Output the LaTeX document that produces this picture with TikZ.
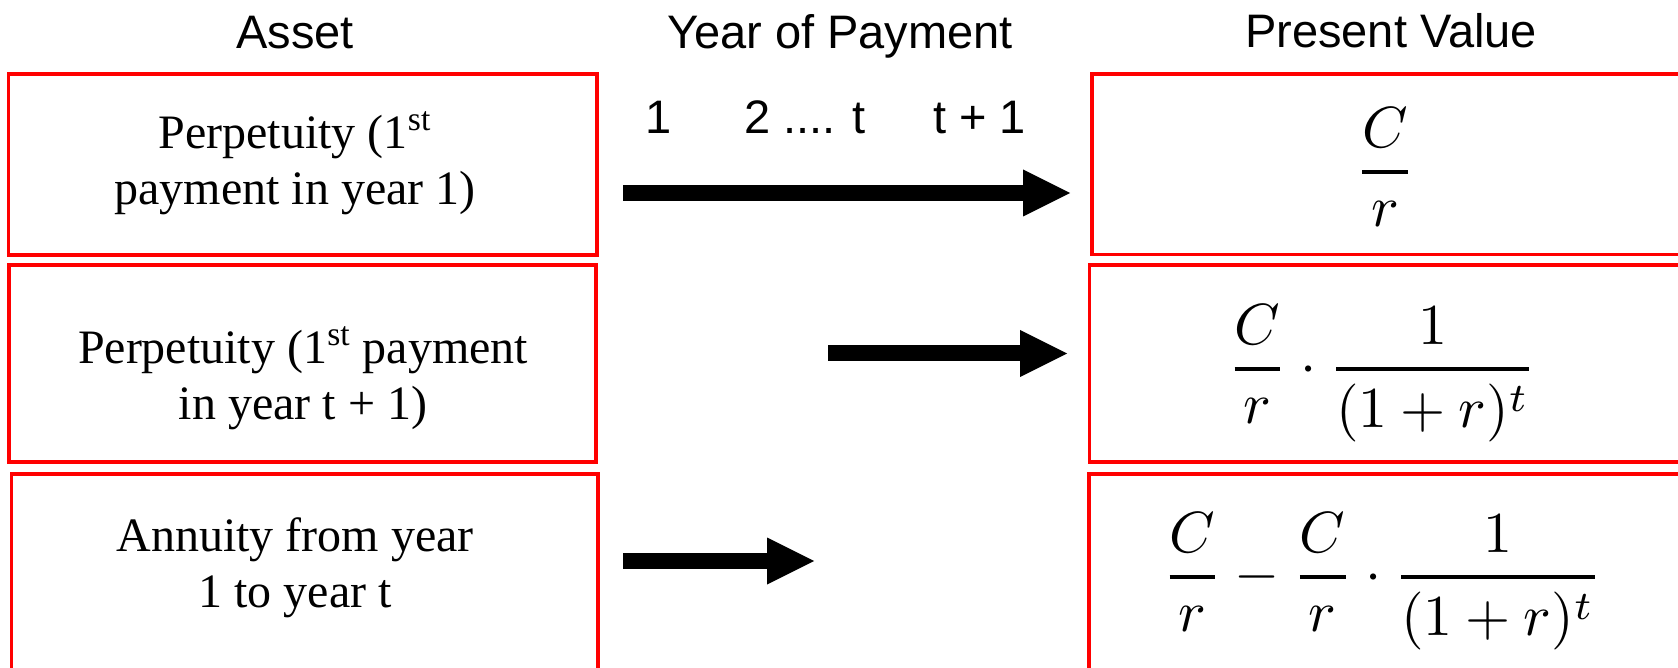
\documentclass[tikz,border=0pt]{standalone}
\usepackage{amsmath}
\usepackage{graphicx}
\usepackage{fontspec}
\setmainfont{Liberation Serif}
\newfontfamily\arialfont{Liberation Sans}
\usetikzlibrary{arrows.meta}
\newcommand{\bfr}[2]{\genfrac{}{}{0.76pt}{0}{#1}{#2}}
\newcommand{\bigmath}[1]{\scalebox{2.9}{$\displaystyle #1$}}
\tikzset{
  redbox/.style={draw=red, line width=1.8pt, rectangle, inner sep=0pt},
  header/.style={font=\arialfont\fontsize{23.5}{28}\selectfont, anchor=base, inner sep=0pt},
  assettxt/.style={font=\fontsize{24}{28}\selectfont, align=center, inner sep=0pt},
  pvmath/.style={font=\fontsize{10}{12}\selectfont, anchor=base, inner sep=0pt},
  bigarrow/.style={line width=8pt, -{Triangle[length=23.5pt,width=23.5pt,line width=0pt]}},
}
\begin{document}
\begin{tikzpicture}[x=0.5pt,y=-0.5pt]
\useasboundingbox (0,0) rectangle (1678,668);
% headers
\node[header] (hA) at (295,49) {Asset};
\node[header] (hY) at (840,49) {Year of Payment};
\node[header] (hP) at (1391,48) {Present Value};
% year labels
\node[header] (y1) at (659,134) {1};
\node[header] (y2) at (805,134) {2 .... t};
\node[header] (y3) at (979.5,134) {t + 1};
% left boxes
\node[redbox, minimum width=294.25pt, minimum height=90.5pt] (L1) at (302.75,164.5) {};
\node[redbox, minimum width=293.5pt, minimum height=98.5pt] (L2) at (302.5,363.5) {};
\node[redbox, minimum width=293.25pt, minimum height=103pt] (L3) at (304.75,577) {};
% right boxes
\node[redbox, minimum width=294.5pt, minimum height=90.25pt] (R1) at (1386.5,164.25) {};
\node[redbox, minimum width=295.25pt, minimum height=98.5pt] (R2) at (1384.75,363.75) {};
\node[redbox, minimum width=295.5pt, minimum height=103pt] (R3) at (1384.5,577) {};
% left texts
\node[assettxt] (t1) at (295,163) {Perpetuity (1\textsuperscript{st}\\payment in year 1)};
\node[assettxt] (t2) at (303,378) {Perpetuity (1\textsuperscript{st} payment\\in year t + 1)};
\node[assettxt] (t3) at (295,568) {Annuity from year\\1 to year t};
% formulas
\node[pvmath] (f1) at (1385,186.5) {\bigmath{\bfr{C}{r}}};
\node[pvmath] (f2) at (1382,383.5) {\bigmath{\bfr{C}{r}\cdot\bfr{1}{(1+r)^t}}};
\node[pvmath] (f3) at (1382,591.5) {\bigmath{\bfr{C}{r}-\bfr{C}{r}\cdot\bfr{1}{(1+r)^t}}};
% arrows
\coordinate (a1s) at (623,193);
\coordinate (a1e) at (1070,193);
\coordinate (a2s) at (828,353.5);
\coordinate (a2e) at (1067,353.5);
\coordinate (a3s) at (623,561);
\coordinate (a3e) at (814,561);
\draw[bigarrow] (a1s) -- (a1e);
\draw[bigarrow] (a2s) -- (a2e);
\draw[bigarrow] (a3s) -- (a3e);
\end{tikzpicture}
\end{document}
